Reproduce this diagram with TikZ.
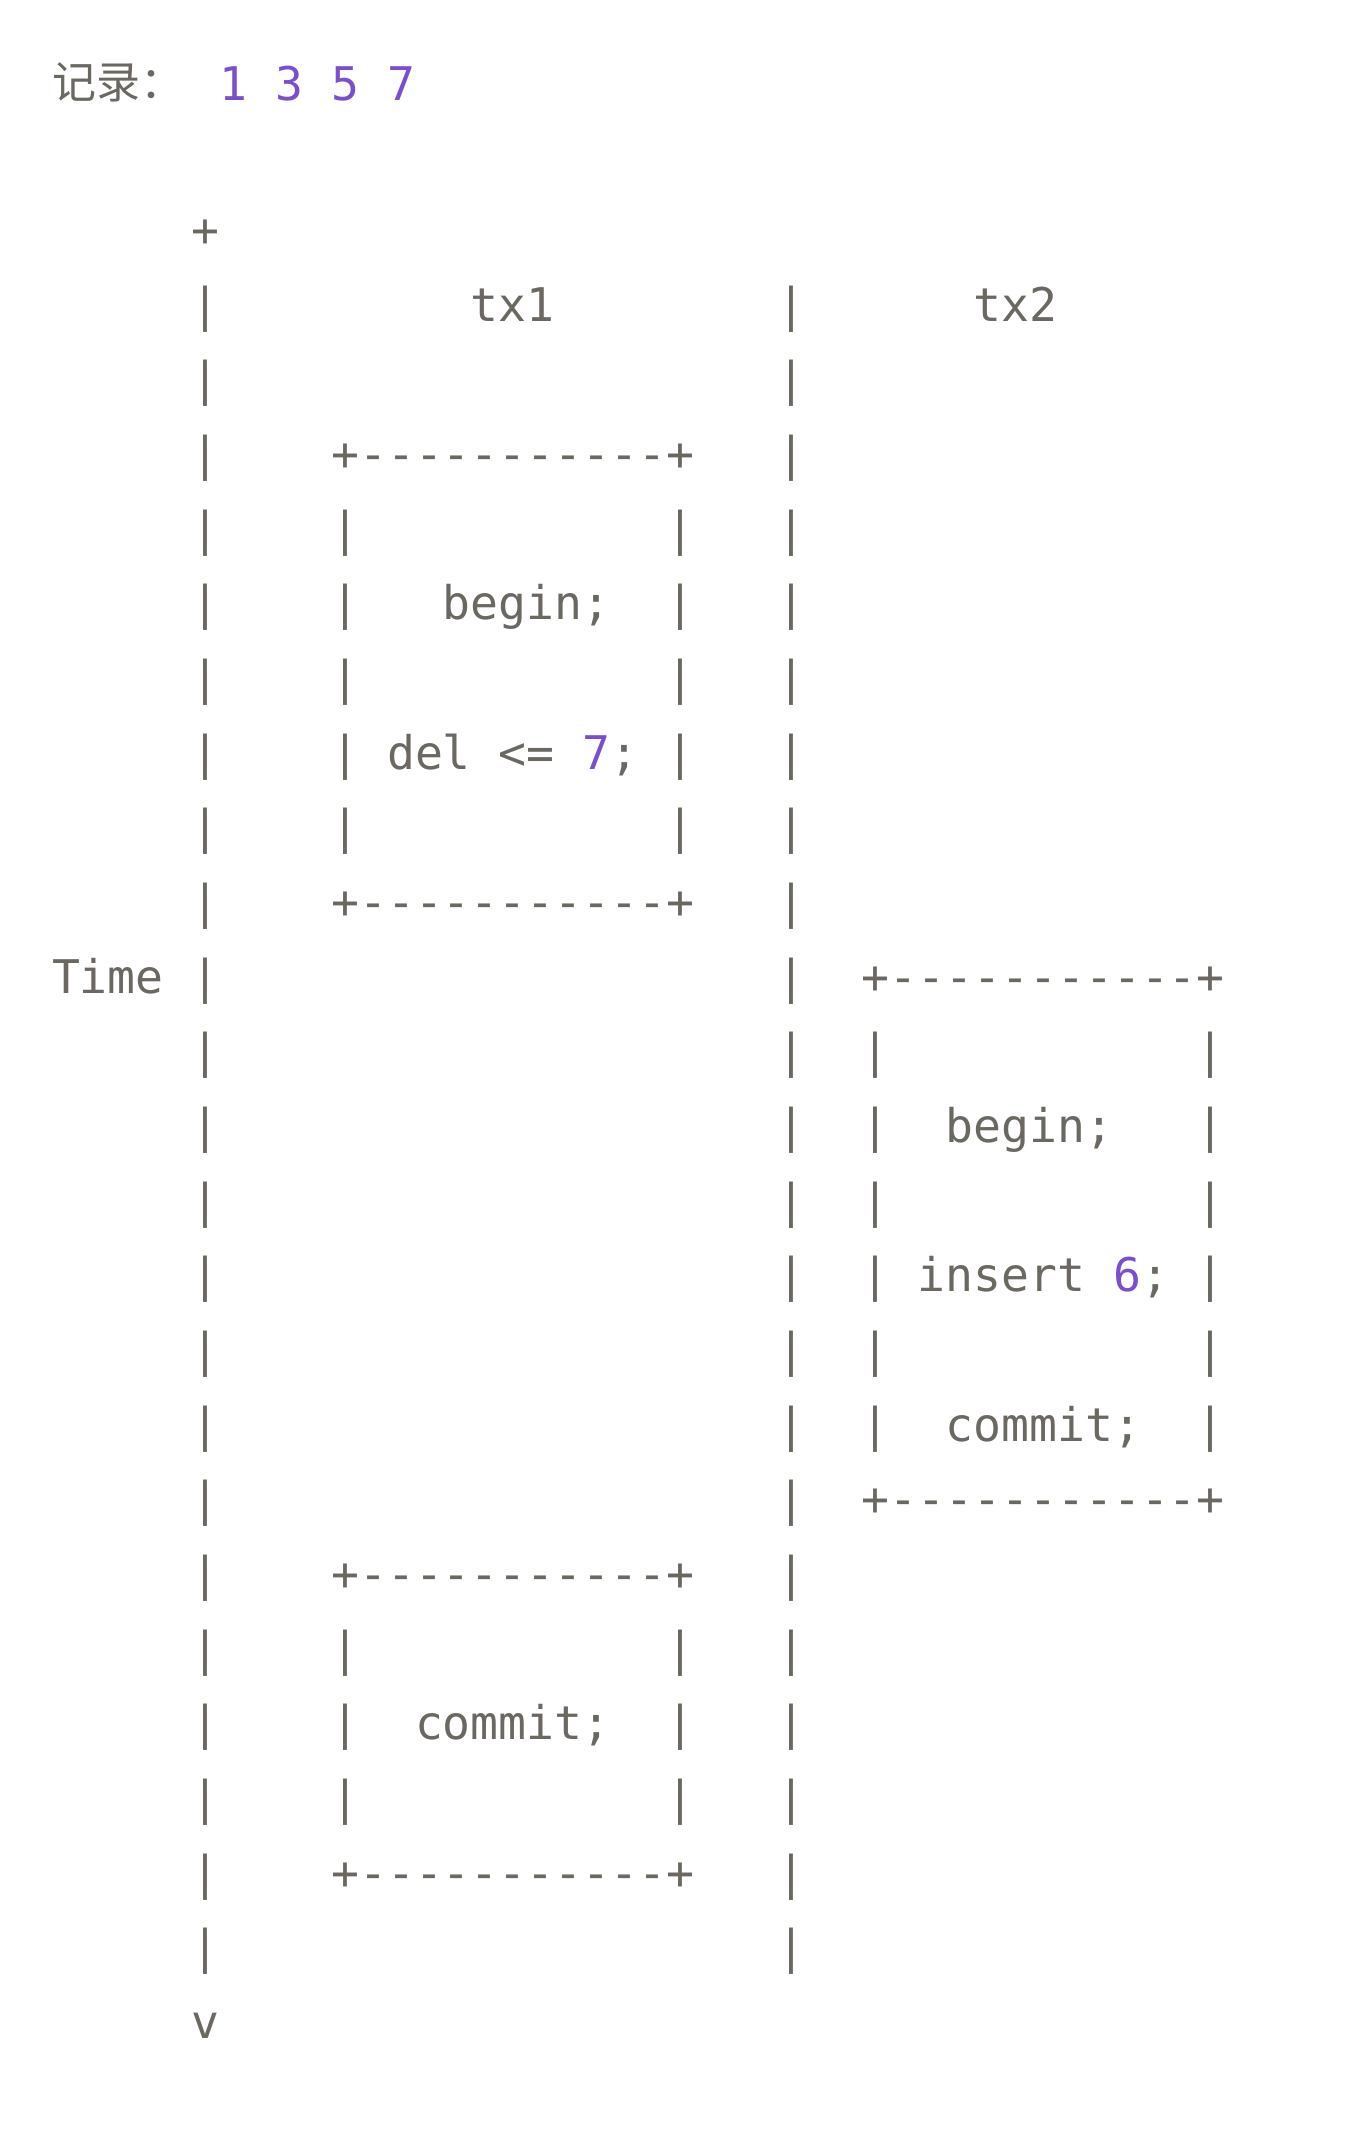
\documentclass[tikz,border=0pt]{standalone}
\usepackage{fontspec}
\usepackage{xcolor}
\usepackage{tikz}
\setmonofont{DejaVu Sans Mono}
\newfontfamily\cjkfont{Noto Sans CJK SC}
\definecolor{asciigray}{HTML}{6B6861}
\definecolor{numpurple}{HTML}{7A4FCF}

\begin{document}
\begin{tikzpicture}[
    x=13.96pt, y=-37.33pt,
    ch/.style={anchor=base west, inner sep=0pt, xshift=-6.98pt, yshift=-7.6pt, text=asciigray, font=\ttfamily\fontsize{23.2}{28}\selectfont},
    num/.style={text=numpurple, yshift=-1.4pt},
    cjk/.style={anchor=base west, inner sep=0pt, yshift=-8pt, text=asciigray, font=\cjkfont\fontsize{22}{26}\selectfont}
]
    \useasboundingbox (-32.8pt,41pt) rectangle (644.2pt,-1031pt);

    % header
    \node[cjk] (rec) at (-0.49, 0) {记录：};
    \node[ch, num] (nums) at (6, 0) {1 3 5 7};

    % time axis and separator
    \node[ch] (axtop) at (5, 2) {+};
    \foreach \r in {3,...,25} {
        \node[ch] (ax\r) at (5, \r) {|};
        \node[ch] (sep\r) at (26, \r) {|};
    }
    \node[ch] (axtip) at (5, 26) {v};
    \node[ch] (time) at (0, 12) {Time};
    \node[ch] (tx1) at (15, 3) {tx1};
    \node[ch] (tx2) at (33, 3) {tx2};

    % tx1: begin / del
    \node[ch] (atop) at (10, 5) {+-----------+};
    \foreach \r in {6,...,10} {
        \node[ch] (al\r) at (10, \r) {|};
        \node[ch] (ar\r) at (22, \r) {|};
    }
    \node[ch] (abegin) at (14, 7) {begin;};
    \node[ch] (adel) at (12, 9) {del <= {\color{numpurple}7};};
    \node[ch] (abot) at (10, 11) {+-----------+};

    % tx2: begin / insert / commit
    \node[ch] (btop) at (29, 12) {+-----------+};
    \foreach \r in {13,...,18} {
        \node[ch] (bl\r) at (29, \r) {|};
        \node[ch] (br\r) at (41, \r) {|};
    }
    \node[ch] (bbegin) at (32, 14) {begin;};
    \node[ch] (binsert) at (31, 16) {insert {\color{numpurple}6};};
    \node[ch] (bcommit) at (32, 18) {commit;};
    \node[ch] (bbot) at (29, 19) {+-----------+};

    % tx1: commit
    \node[ch] (ctop) at (10, 20) {+-----------+};
    \foreach \r in {21,...,23} {
        \node[ch] (cl\r) at (10, \r) {|};
        \node[ch] (cr\r) at (22, \r) {|};
    }
    \node[ch] (ccommit) at (13, 22) {commit;};
    \node[ch] (cbot) at (10, 24) {+-----------+};

\end{tikzpicture}
\end{document}
